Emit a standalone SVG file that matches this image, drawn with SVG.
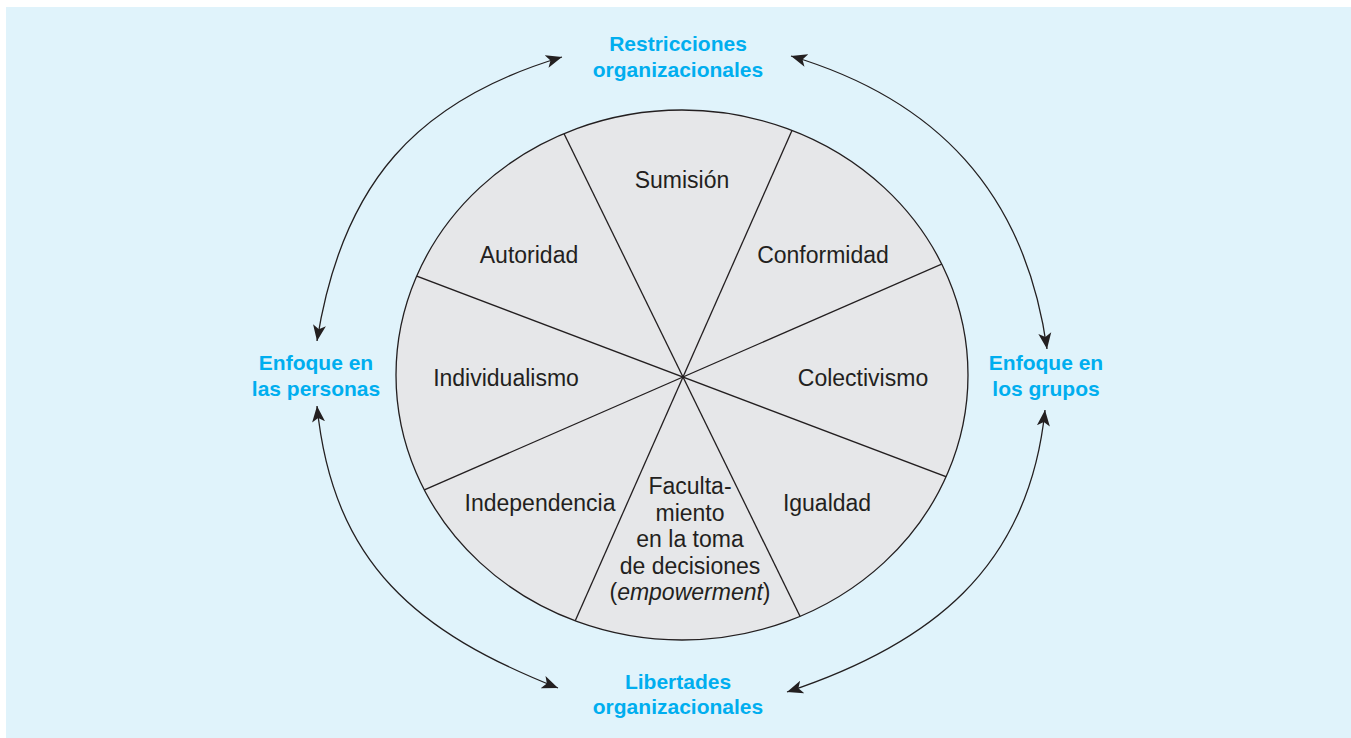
<svg xmlns="http://www.w3.org/2000/svg" width="1351" height="738" viewBox="0 0 1351 738">
<style>
.seg{font-family:"Liberation Sans",Arial,sans-serif;font-size:23px;fill:#231f20;text-anchor:middle}
.lbl{font-family:"Liberation Sans",Arial,sans-serif;font-size:21px;font-weight:bold;fill:#00aeef;text-anchor:middle}
.div{stroke:#231f20;stroke-width:1.3;fill:none}
.arc{stroke:#231f20;stroke-width:1.3;fill:none;marker-start:url(#ah);marker-end:url(#ah)}
</style>
<defs>
<marker id="ah" markerUnits="userSpaceOnUse" markerWidth="17" markerHeight="14" refX="16" refY="6.5" orient="auto-start-reverse" viewBox="0 0 17 13">
<path d="M0,0 L16,6.5 L0,13 L4,6.5 Z" fill="#231f20"/>
</marker>
<clipPath id="clip"><ellipse cx="682" cy="375" rx="286" ry="265"/></clipPath>
</defs>
<rect width="1351" height="738" fill="#ffffff"/>
<rect x="6" y="7" width="1345" height="731" fill="#e0f3fb"/>
<g id="wheel">
<ellipse cx="682" cy="375" rx="286" ry="265" fill="#e6e7e9"/>
<g clip-path="url(#clip)" class="div">
<line x1="527.5" y1="59" x2="838.5" y2="695"/>
<line x1="828" y1="49" x2="538" y2="705"/>
<line x1="1029" y1="226" x2="337" y2="528"/>
<line x1="332" y1="244" x2="1034" y2="510"/>
</g>
<ellipse cx="682" cy="375" rx="286" ry="265" class="div"/>
</g>
<g id="sumision"><text class="seg" x="682" y="188">Sumisión</text></g>
<g id="autoridad"><text class="seg" x="529" y="263">Autoridad</text></g>
<g id="conformidad"><text class="seg" x="823" y="263">Conformidad</text></g>
<g id="individualismo"><text class="seg" x="506" y="386">Individualismo</text></g>
<g id="colectivismo"><text class="seg" x="863" y="386">Colectivismo</text></g>
<g id="independencia"><text class="seg" x="540" y="511">Independencia</text></g>
<g id="igualdad"><text class="seg" x="827" y="511">Igualdad</text></g>
<g id="facultamiento">
<text class="seg" x="690" y="494">Faculta-</text>
<text class="seg" x="690" y="521">miento</text>
<text class="seg" x="690" y="547">en la toma</text>
<text class="seg" x="690" y="574">de decisiones</text>
<text class="seg" x="690" y="600">(<tspan font-style="italic">empowerment</tspan>)</text>
</g>
<g id="restricciones">
<text class="lbl" x="678" y="51">Restricciones</text>
<text class="lbl" x="678" y="77">organizacionales</text>
</g>
<g id="libertades">
<text class="lbl" x="678" y="689">Libertades</text>
<text class="lbl" x="678" y="714">organizacionales</text>
</g>
<g id="personas">
<text class="lbl" x="316" y="370">Enfoque en</text>
<text class="lbl" x="316" y="396">las personas</text>
</g>
<g id="grupos">
<text class="lbl" x="1046" y="370">Enfoque en</text>
<text class="lbl" x="1046" y="396">los grupos</text>
</g>
<g id="connectors">
<path class="arc" d="M562,57 C418,100 342,182 317,341"/>
<path class="arc" d="M791,56 C935,99 1025,191 1047,349"/>
<path class="arc" d="M317,406 C333,565 419,633 558,688"/>
<path class="arc" d="M1045,410 C1029,569 929,645 787,692"/>
</g>
</svg>
